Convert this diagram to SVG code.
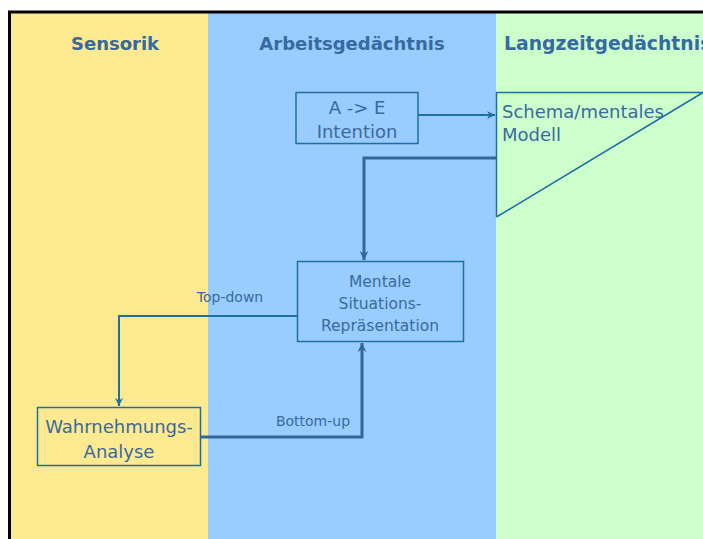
<svg xmlns="http://www.w3.org/2000/svg" width="703" height="539" viewBox="0 0 703 539">
  <defs>
    <style>
      .hdr { font-family: "DejaVu Sans", "Liberation Sans", sans-serif; font-weight: bold; font-size: 18px; fill: #376AA0; }
      .hdr-wide { font-size: 18.8px; }
      .txt { font-family: "DejaVu Sans", "Liberation Sans", sans-serif; font-size: 18px; fill: #3A6A9E; }
      .mid { font-size: 15.5px; }
      .lbl { font-family: "DejaVu Sans", "Liberation Sans", sans-serif; font-size: 14px; fill: #3A6A9E; }
      .box { stroke: #1F6FA0; stroke-width: 1.5; }
      .thin { fill: none; stroke: #1F6FA0; stroke-width: 2; }
      .thick { fill: none; stroke: #336699; stroke-width: 3; }
    </style>
    <marker id="arrowThin" viewBox="0 0 10 10" refX="10" refY="5" markerWidth="8" markerHeight="8" markerUnits="userSpaceOnUse" orient="auto">
      <path d="M0,0 L10,5 L0,10 L3,5 Z" fill="#1F6FA0"/>
    </marker>
    <marker id="arrowThick" viewBox="0 0 10 10" refX="10" refY="5" markerWidth="9" markerHeight="9" markerUnits="userSpaceOnUse" orient="auto">
      <path d="M0,0 L10,5 L0,10 L3,5 Z" fill="#336699"/>
    </marker>
  </defs>

  <rect width="703" height="539" fill="#FFFFFF"/>

  <!-- columns -->
  <rect x="10" y="12" width="198" height="527" fill="#FDE98F"/>
  <rect x="208" y="12" width="288" height="527" fill="#99CCFF"/>
  <rect x="496" y="12" width="207" height="527" fill="#CCFFCC"/>

  <!-- outer frame -->
  <path d="M9.5,539 V12 H703" fill="none" stroke="#000000" stroke-width="3"/>

  <!-- column headers -->
  <text class="hdr" x="115" y="50" text-anchor="middle">Sensorik</text>
  <text class="hdr" x="352" y="50" text-anchor="middle">Arbeitsgedächtnis</text>
  <text class="hdr hdr-wide" x="504" y="50">Langzeitgedächtnis</text>

  <!-- connectors -->
  <g id="connectors">
    <path class="thin" d="M418,115 H495" marker-end="url(#arrowThin)"/>
    <path class="thick" d="M496,158 H364 V260" marker-end="url(#arrowThick)"/>
    <path class="thin" d="M297,316 H119 V406" marker-end="url(#arrowThin)"/>
    <path class="thick" d="M200,437 H362 V343" marker-end="url(#arrowThick)"/>
    <text class="lbl" x="230" y="302" text-anchor="middle">Top-down</text>
    <text class="lbl" x="313" y="426" text-anchor="middle">Bottom-up</text>
  </g>

  <g id="intention">
    <rect class="box" x="296" y="92.5" width="122" height="51" fill="#99CCFF"/>
    <text class="txt" x="357" y="114" text-anchor="middle">A -&gt; E</text>
    <text class="txt" x="357" y="138" text-anchor="middle">Intention</text>
  </g>

  <g id="schema">
    <path class="box" d="M496.5,217 V92.5 H703 M703,92.5 L496.5,217" fill="none"/>
    <text class="txt" x="502" y="118">Schema/mentales</text>
    <text class="txt" x="502" y="141">Modell</text>
  </g>

  <g id="situation">
    <rect class="box" x="297.5" y="261.5" width="166" height="80" fill="#99CCFF"/>
    <text class="txt mid" x="380" y="287" text-anchor="middle">Mentale</text>
    <text class="txt mid" x="380" y="309" text-anchor="middle">Situations-</text>
    <text class="txt mid" x="380" y="331" text-anchor="middle">Repräsentation</text>
  </g>

  <g id="perception">
    <rect class="box" x="37.5" y="407.5" width="163" height="58" fill="#FDE98F"/>
    <text class="txt" x="119" y="433" text-anchor="middle">Wahrnehmungs-</text>
    <text class="txt" x="119" y="458" text-anchor="middle">Analyse</text>
  </g>
</svg>
